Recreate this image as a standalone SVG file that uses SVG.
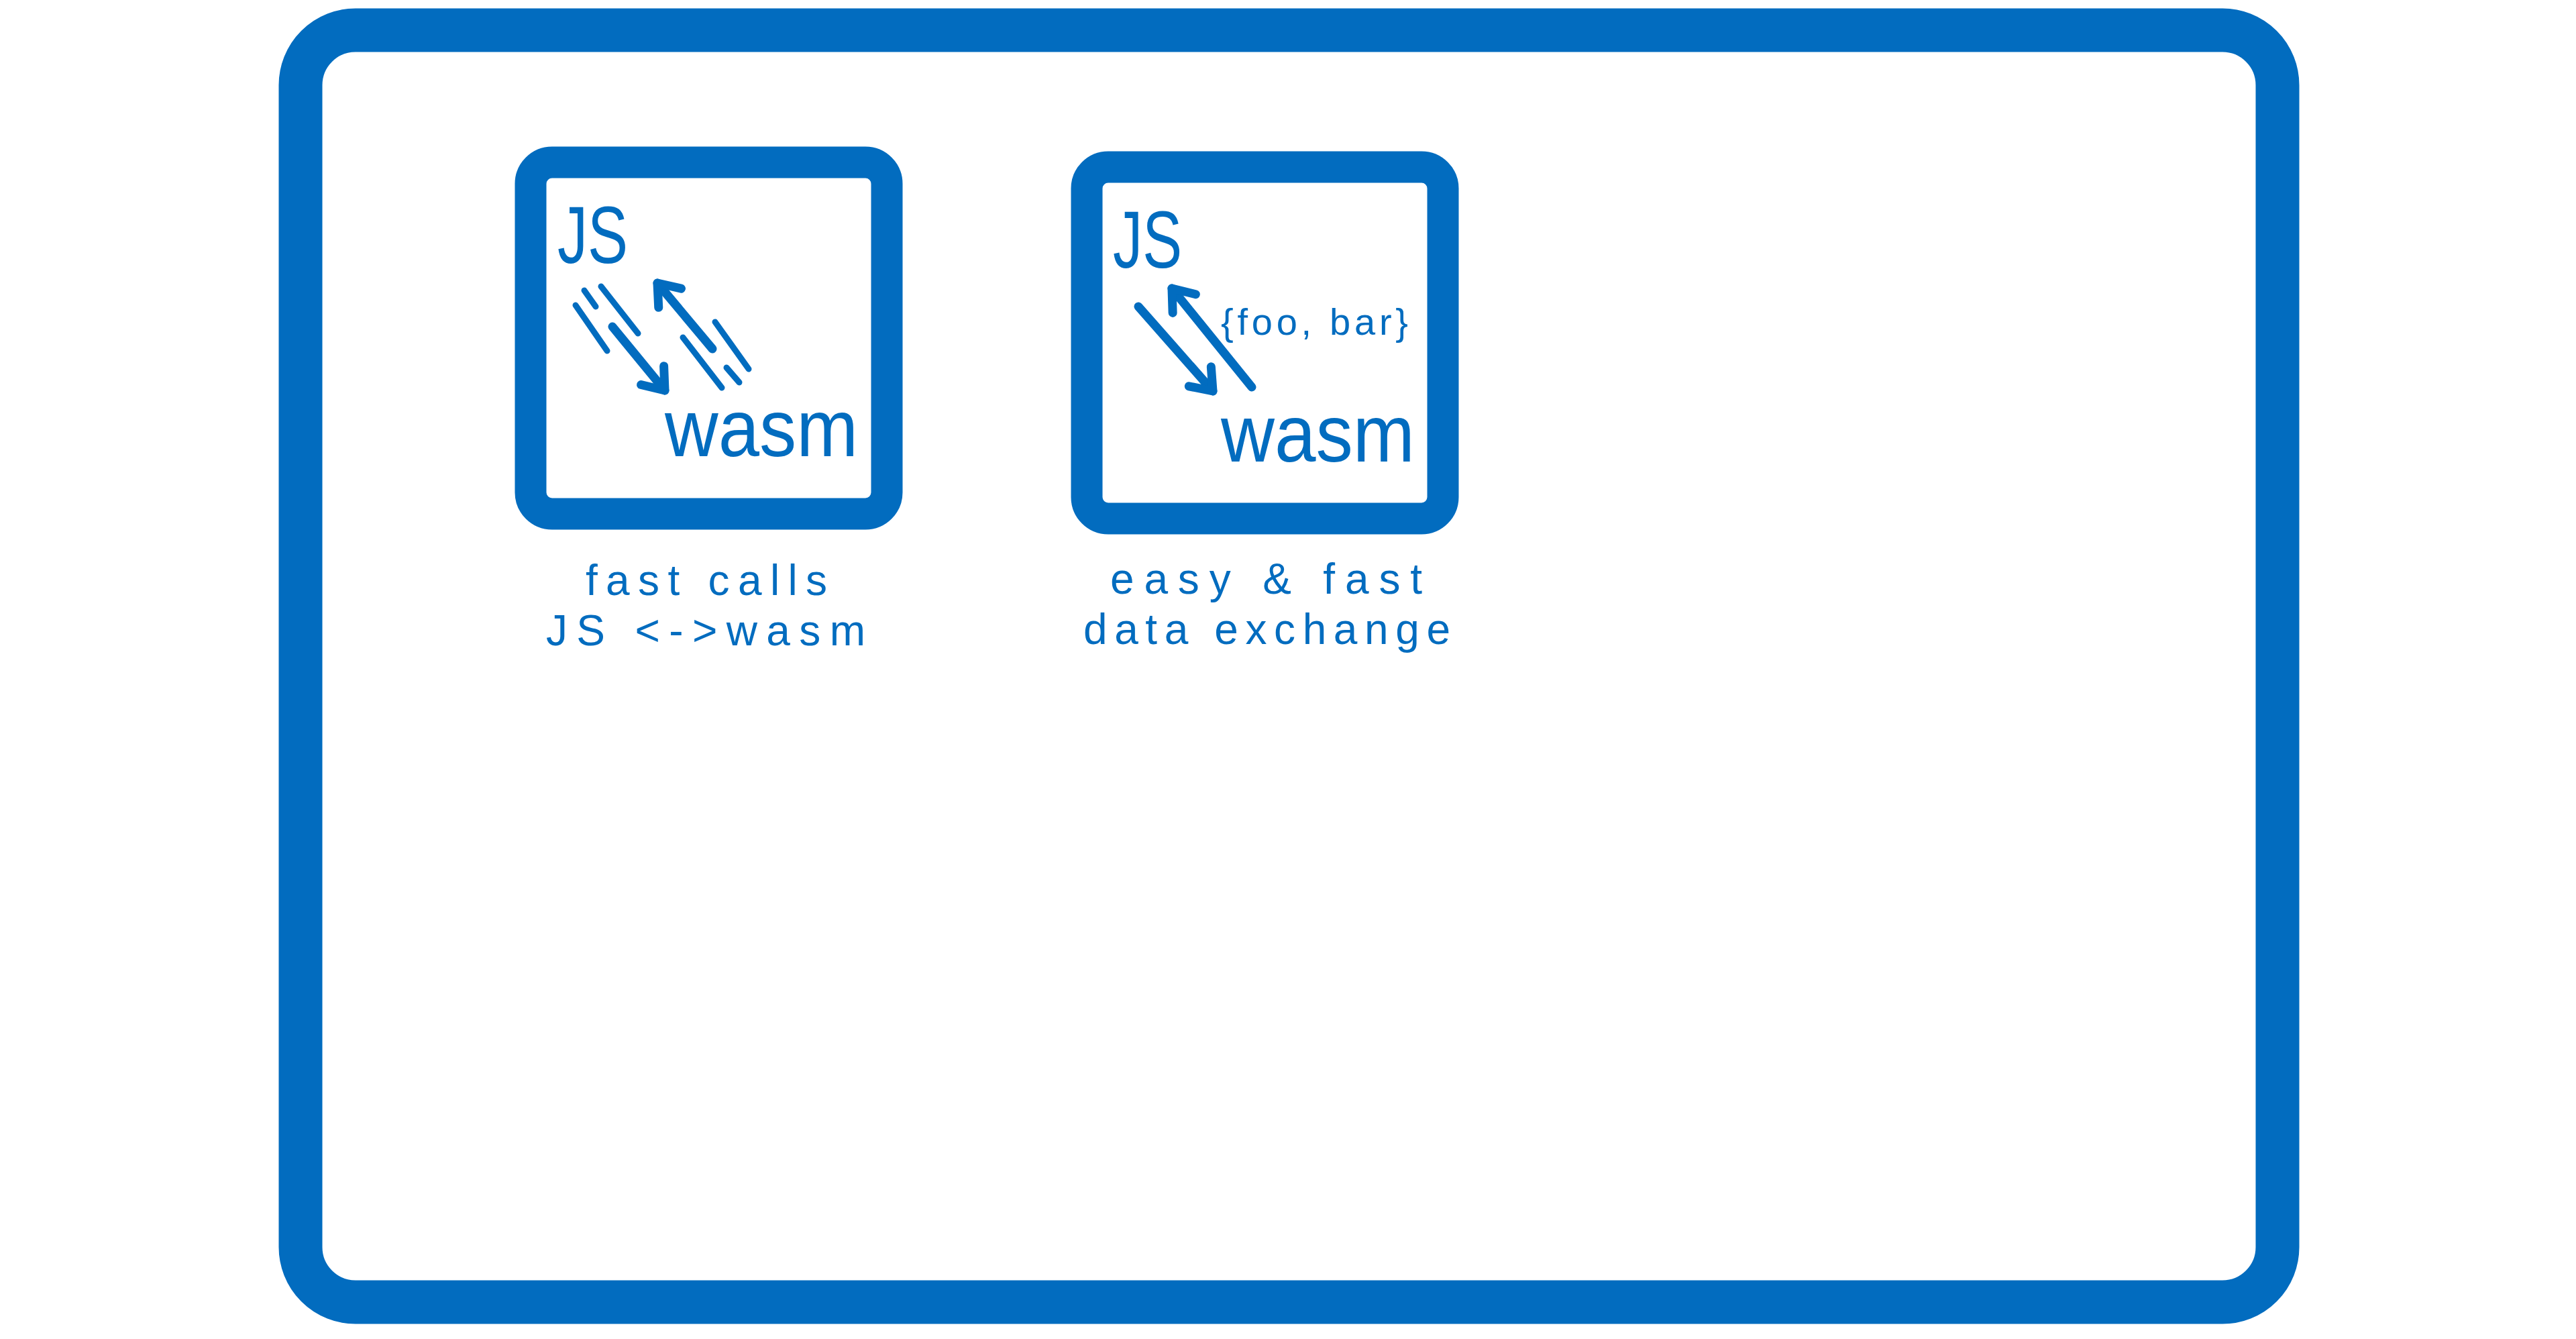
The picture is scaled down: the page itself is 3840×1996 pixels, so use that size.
<svg xmlns="http://www.w3.org/2000/svg" width="3840" height="1996" viewBox="0 0 3840 1996">
<style>
.frame{fill:none;stroke:#026cbf;stroke-linejoin:round}
.t{fill:#026cbf;font-family:"Liberation Sans","DejaVu Sans",sans-serif}
.big{font-size:120px}
.lbl{font-size:64px}
.code{font-size:56px}
.arr{fill:none;stroke:#026cbf;stroke-width:13;stroke-linecap:round;marker-end:url(#ah)}
.spd{fill:none;stroke:#026cbf;stroke-width:9;stroke-linecap:round}
</style>
<defs>
<marker id="ah" markerUnits="userSpaceOnUse" orient="auto" overflow="visible" markerWidth="1" markerHeight="1" refX="0" refY="0">
<path d="M-29,-22 L0,0 L-29,22" fill="none" stroke="#026cbf" stroke-width="13" stroke-linecap="round" stroke-linejoin="round"/>
</marker>
</defs>
<rect width="3840" height="1996" fill="#ffffff"/>
<g id="outer-frame">
<rect class="frame" x="448" y="45" width="2947" height="1896" rx="82" ry="82" stroke-width="65"/>
</g>
<g id="node-fast-calls">
<rect class="frame" x="791" y="242" width="531" height="524" rx="32" ry="32" stroke-width="47"/>
<text class="t big" x="831" y="392" textLength="105" lengthAdjust="spacingAndGlyphs">JS</text>
<text class="t big" x="991" y="680" textLength="288" lengthAdjust="spacingAndGlyphs">wasm</text>
<text class="t lbl" x="873" y="887" textLength="360" lengthAdjust="spacing">fast calls</text>
<text class="t lbl" x="814" y="962" textLength="476" lengthAdjust="spacing">JS &lt;-&gt;wasm</text>
</g>
<g id="node-data-exchange">
<rect class="frame" x="1620" y="249" width="531" height="524" rx="32" ry="32" stroke-width="47"/>
<text class="t big" x="1659" y="399" textLength="103" lengthAdjust="spacingAndGlyphs">JS</text>
<text class="t code" x="1820" y="499" textLength="279" lengthAdjust="spacing">{foo, bar}</text>
<text class="t big" x="1820" y="688" textLength="289" lengthAdjust="spacingAndGlyphs">wasm</text>
<text class="t lbl" x="1655" y="885" textLength="465" lengthAdjust="spacing">easy &amp; fast</text>
<text class="t lbl" x="1615" y="960" textLength="547" lengthAdjust="spacing">data exchange</text>
</g>
<g id="connectors">
<path class="arr" d="M913,487 L991,582"/>
<path class="arr" d="M1062,520 L980,422"/>
<path class="spd" d="M858,455 L905,523"/>
<path class="spd" d="M871,433 L888,457"/>
<path class="spd" d="M896,427 L951,497"/>
<path class="spd" d="M1018,503 L1076,578"/>
<path class="spd" d="M1066,480 L1116,550"/>
<path class="spd" d="M1083,548 L1102,570"/>
<path class="arr" d="M1697,457 L1808,583"/>
<path class="arr" d="M1866,577 L1747,430"/>
</g>
</svg>
